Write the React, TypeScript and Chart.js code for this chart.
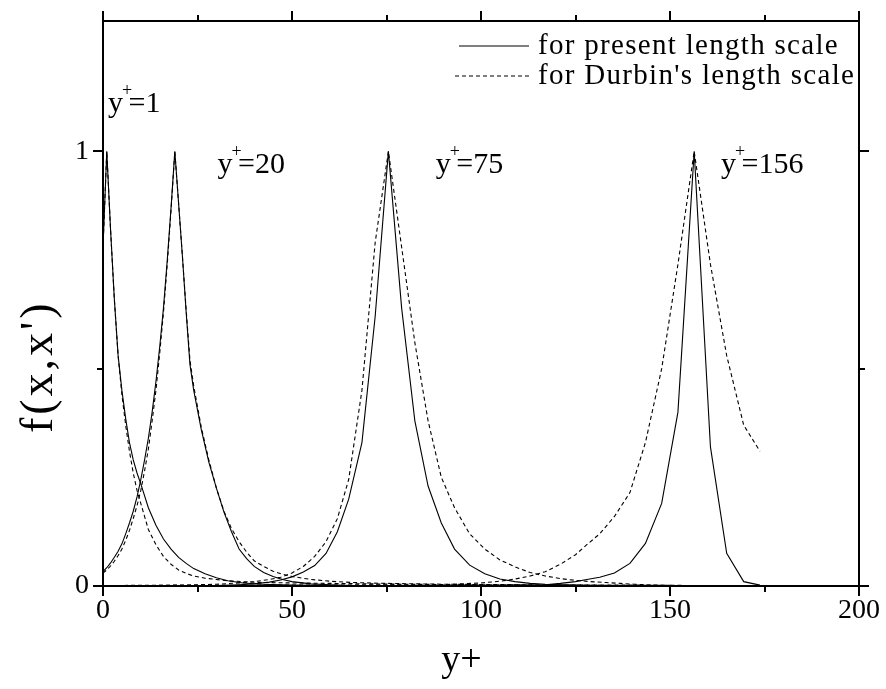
import React, { useEffect, useRef } from "react";
import { Chart, registerables } from "chart.js";

Chart.register(...registerables);

const FONT = "'Liberation Serif', 'Times New Roman', serif";

// ---- data ----
// curve for source point y+ = 1
const xA = [0, 1, 2, 3, 4, 5, 6, 7, 8, 9, 10, 12, 14, 16, 18, 20, 22, 24, 27, 30, 33, 37, 42, 50, 60, 80, 100, 120, 140, 160, 173.8];
const presentA = [0.78, 1.0, 0.82, 0.66, 0.53, 0.45, 0.385, 0.33, 0.29, 0.26, 0.235, 0.18, 0.14, 0.108, 0.085, 0.066, 0.052, 0.04, 0.028, 0.019, 0.012, 0.007, 0.004, 0.002, 0.001, 0, 0, 0, 0, 0, 0];
const durbinA = [0.78, 1.0, 0.82, 0.66, 0.53, 0.44, 0.37, 0.31, 0.26, 0.22, 0.19, 0.13, 0.095, 0.068, 0.05, 0.037, 0.029, 0.023, 0.018, 0.015, 0.012, 0.01, 0.008, 0.007, 0.006, 0.004, 0.003, 0.002, 0.002, 0.001, 0.001];

// curve for source point y+ = 20
const xB = [0, 1, 2, 3, 4, 5, 6, 7, 8, 9, 10, 11, 12, 13, 14, 15, 16, 17, 18, 19, 20, 21, 22, 23, 24, 26, 28, 30, 32, 34, 36, 38, 40, 42.5, 45, 47.5, 50, 55, 60, 66, 75, 90, 110, 130, 150, 173.8];
const presentB = [0.033, 0.042, 0.053, 0.066, 0.08, 0.097, 0.12, 0.145, 0.172, 0.205, 0.245, 0.29, 0.34, 0.4, 0.47, 0.55, 0.64, 0.75, 0.87, 1.0, 0.88, 0.76, 0.63, 0.51, 0.45, 0.36, 0.285, 0.225, 0.17, 0.125, 0.085, 0.063, 0.045, 0.031, 0.022, 0.015, 0.01, 0.005, 0.003, 0.001, 0, 0, 0, 0, 0, 0];
const durbinB = [0.03, 0.037, 0.046, 0.057, 0.07, 0.085, 0.105, 0.128, 0.155, 0.185, 0.22, 0.265, 0.315, 0.38, 0.45, 0.535, 0.63, 0.74, 0.865, 1.0, 0.88, 0.76, 0.635, 0.52, 0.46, 0.365, 0.29, 0.225, 0.172, 0.132, 0.102, 0.078, 0.058, 0.045, 0.034, 0.027, 0.022, 0.015, 0.011, 0.008, 0.006, 0.004, 0.003, 0.002, 0.001, 0.001];

// curve for source point y+ = 75
const xC = [0, 20, 30, 36, 40, 44, 47, 50, 53, 56, 59, 62, 65, 68.5, 72, 75.5, 79, 82.5, 86, 89.5, 93, 97, 101, 105, 109, 113, 117, 121, 125, 129, 133, 137, 140.5, 144, 148, 152.2, 156.4, 160.7, 165, 169.5, 173.8];
const presentC = [0, 0, 0.001, 0.003, 0.005, 0.009, 0.014, 0.021, 0.032, 0.047, 0.075, 0.125, 0.2, 0.33, 0.62, 1.0, 0.64, 0.38, 0.23, 0.145, 0.085, 0.048, 0.028, 0.016, 0.01, 0.006, 0.004, 0.003, 0.002, 0.001, 0.001, 0, 0, 0, 0, 0, 0, 0, 0, 0, 0];
const durbinC = [0.001, 0.002, 0.004, 0.007, 0.01, 0.015, 0.02, 0.03, 0.045, 0.068, 0.102, 0.155, 0.245, 0.45, 0.79, 1.0, 0.78, 0.56, 0.38, 0.25, 0.18, 0.12, 0.085, 0.06, 0.044, 0.031, 0.023, 0.017, 0.013, 0.01, 0.008, 0.006, 0.004, 0.003, 0.002, 0.001, 0.001, 0.001, 0.001, 0, 0];

// curve for source point y+ = 156
const xD = [0, 90, 100, 105, 109, 113, 117, 121, 125, 128, 131.4, 135.3, 139.4, 143.5, 147.8, 152.1, 156.4, 160.7, 165, 169.5, 173.8];
const presentD = [0, 0, 0, 0.001, 0.002, 0.002, 0.003, 0.006, 0.01, 0.015, 0.02, 0.03, 0.052, 0.098, 0.19, 0.4, 1.0, 0.32, 0.075, 0.01, 0.002];
const durbinD = [0.001, 0.003, 0.007, 0.011, 0.016, 0.023, 0.033, 0.05, 0.072, 0.095, 0.12, 0.16, 0.215, 0.33, 0.5, 0.74, 1.0, 0.74, 0.53, 0.37, 0.31];

const legendLabels = ["for present length scale", "for Durbin's length scale"];
const curveNames = ["1", "20", "75", "156"];
const curveLabelX = [1.3, 30.3, 88, 163.5];
const curveLabelY = [1.09, 0.95, 0.95, 0.95];
const xTicks = [0, 25, 50, 75, 100, 125, 150, 175, 200];
const yTicks = [0, 0.5, 1];
const xTitle = "y+";
const yTitle = "f(x,x')";

const toPoints = (xs: number[], ys: number[]) => xs.map((x, i) => ({ x, y: ys[i] }));

const noPad = (s: any) => {
  s.paddingTop = 0;
  s.paddingBottom = 0;
  s.paddingLeft = 0;
  s.paddingRight = 0;
};

const decorPlugin = {
  id: "decor",
  afterDraw(chart: any) {
    const { ctx, chartArea, scales } = chart;
    const { left, right, top, bottom } = chartArea;
    const sx = scales.x;
    const sy = scales.y;
    ctx.save();
    ctx.strokeStyle = "#000";
    ctx.fillStyle = "#000";
    // frame
    ctx.lineWidth = 2;
    ctx.strokeRect(left, top, right - left, bottom - top);
    // x ticks (bottom & top)
    xTicks.forEach((v) => {
      const px = Math.round(sx.getPixelForValue(v));
      const len = v % 50 === 0 ? 10 : 6;
      ctx.beginPath();
      ctx.moveTo(px, bottom);
      ctx.lineTo(px, bottom + len);
      ctx.moveTo(px, top);
      ctx.lineTo(px, top - len);
      ctx.stroke();
    });
    yTicks.forEach((v) => {
      const py = Math.round(sy.getPixelForValue(v));
      const len = v === 0.5 ? 6 : 10;
      ctx.beginPath();
      ctx.moveTo(left, py);
      ctx.lineTo(left - len, py);
      ctx.moveTo(right, py);
      ctx.lineTo(right + len, py);
      ctx.stroke();
    });

    // legend
    const lx0 = right - 400;
    const lx1 = right - 330;
    const tx = right - 321;
    const rows = [top + 25, top + 55];
    ctx.font = `29px ${FONT}`;
    (ctx as any).letterSpacing = "1.3px";
    ctx.textBaseline = "middle";
    ctx.textAlign = "left";
    rows.forEach((ry, i) => {
      ctx.beginPath();
      ctx.lineWidth = 1.2;
      ctx.setLineDash(i === 0 ? [] : [4, 3]);
      ctx.moveTo(i === 0 ? lx0 : lx0 - 4, ry);
      ctx.lineTo(lx1, ry);
      ctx.stroke();
      ctx.setLineDash([]);
      ctx.fillText(legendLabels[i], tx, ry);
    });
    (ctx as any).letterSpacing = "0px";

    // curve labels y+=...
    ctx.textBaseline = "alphabetic";
    curveNames.forEach((name, i) => {
      const px = sx.getPixelForValue(curveLabelX[i]);
      const py = sy.getPixelForValue(curveLabelY[i]);
      ctx.font = `30px ${FONT}`;
      ctx.fillText("y", px, py);
      const wy = ctx.measureText("y").width;
      ctx.font = `18px ${FONT}`;
      ctx.fillText("+", px + wy - 1, py - 16);
      const wp = ctx.measureText("+").width;
      ctx.font = `30px ${FONT}`;
      ctx.fillText("=" + name, px + wy + wp * 0.55, py);
    });

    // axis titles
    ctx.textAlign = "center";
    ctx.textBaseline = "middle";
    ctx.font = `38px ${FONT}`;
    ctx.fillText(xTitle, left + (right - left) * 0.474, bottom + 75);
    ctx.save();
    ctx.translate(40, sy.getPixelForValue(0.5));
    ctx.rotate(-Math.PI / 2);
    ctx.font = `46px ${FONT}`;
    (ctx as any).letterSpacing = "3px";
    ctx.fillText(yTitle, 2, 0);
    ctx.restore();
    ctx.restore();
  },
};

export default function App() {
  const ref = useRef<HTMLCanvasElement | null>(null);
  useEffect(() => {
    if (!ref.current) return;
    Chart.defaults.color = "#000";
    const line = (data: any[], dashed: boolean) => ({
      data,
      showLine: true,
      borderColor: "#000",
      borderWidth: 1.1,
      borderDash: dashed ? [4, 3] : [],
      pointRadius: 0,
      fill: false,
      tension: 0,
    });
    const chart = new Chart(ref.current, {
      type: "scatter",
      data: {
        datasets: [
          line(toPoints(xA, presentA), false),
          line(toPoints(xA, durbinA), true),
          line(toPoints(xB, presentB), false),
          line(toPoints(xB, durbinB), true),
          line(toPoints(xC, presentC), false),
          line(toPoints(xC, durbinC), true),
          line(toPoints(xD, presentD), false),
          line(toPoints(xD, durbinD), true),
        ],
      },
      options: {
        responsive: false,
        animation: false,
        layout: { padding: 0 },
        plugins: { legend: { display: false }, tooltip: { enabled: false } },
        scales: {
          x: {
            type: "linear",
            position: "bottom",
            min: 0,
            max: 200,
            afterFit: (s: any) => { s.height = 103; noPad(s); },
            grid: { display: false, drawTicks: false },
            border: { display: false },
            ticks: {
              stepSize: 50,
              includeBounds: false,
              padding: 8,
              color: "#000",
              font: { family: FONT, size: 28 },
              maxRotation: 0,
            },
          },
          x2: {
            type: "linear",
            position: "top",
            min: 0,
            max: 200,
            afterFit: (s: any) => { s.height = 21; noPad(s); },
            grid: { display: false, drawTicks: false },
            border: { display: false },
            ticks: { display: false },
          },
          y: {
            type: "linear",
            position: "left",
            min: 0,
            max: 1.3,
            afterFit: (s: any) => { s.width = 103; noPad(s); },
            grid: { display: false, drawTicks: false },
            border: { display: false },
            ticks: {
              stepSize: 0.5,
              includeBounds: false,
              padding: 14,
              color: "#000",
              font: { family: FONT, size: 28 },
              callback: (v: any) => (v === 0 || v === 1 ? String(v) : ""),
            },
          },
          y2: {
            type: "linear",
            position: "right",
            min: 0,
            max: 1.3,
            afterFit: (s: any) => { s.width = 27; noPad(s); },
            grid: { display: false, drawTicks: false },
            border: { display: false },
            ticks: { display: false },
          },
        },
      },
      plugins: [decorPlugin],
    } as any);
    return () => chart.destroy();
  }, []);
  return (
    <div style={{ position: "fixed", left: 0, top: 0, width: 886, height: 689, background: "#fff" }}>
      <canvas ref={ref} width={886} height={689} style={{ display: "block" }} />
    </div>
  );
}
